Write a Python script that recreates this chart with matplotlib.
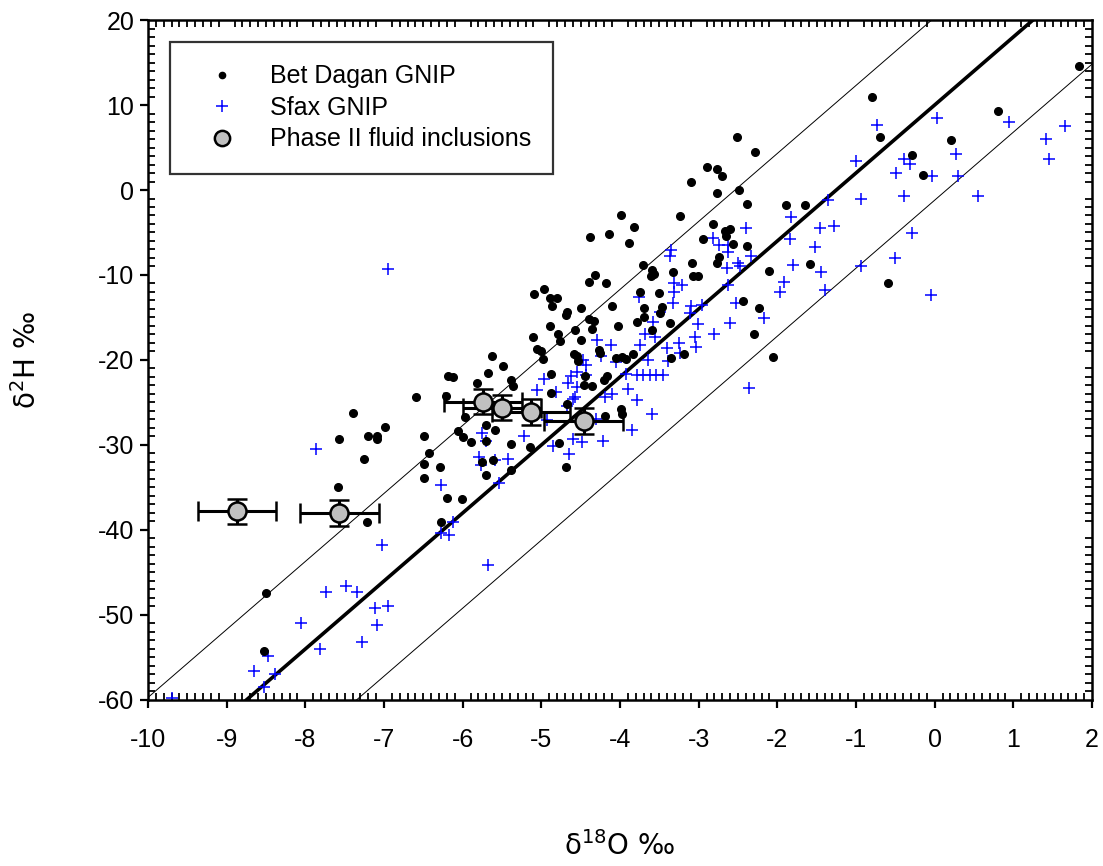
import matplotlib
matplotlib.use("Agg")
import matplotlib.pyplot as plt
from matplotlib.lines import Line2D
from matplotlib.ticker import MultipleLocator
import numpy as np

plt.rcParams["axes.unicode_minus"] = False

# Bet Dagan GNIP (d18O, d2H)
bd_x = [-2.51, -2.29, -2.89, -2.77, -2.70, -3.10, -2.77, -2.49, -2.39, -1.89,
        -1.65, -3.99, -3.24, -3.82, -4.38, -4.14, -3.88, -2.82, -2.67, -2.60,
        -2.65, -2.94, -2.56, -2.39, -2.74, 1.83, -0.80, 0.81, -0.69, 0.21,
        -0.29, -0.15, -1.58, -0.59, -6.19, -6.12, -5.82, -5.68, -5.63, -6.59,
        -6.21, -5.97, -7.39, -6.99, -7.20, -7.09, -7.09, -7.57, -6.49, -6.06,
        -5.99, -5.89, -7.26, -6.43, -6.49, -6.29, -5.75, -5.70, -6.49, -7.59,
        -6.20, -6.01, -5.70, -7.21, -6.28, -8.50, -8.53,
        -3.71, -3.59, -3.57, -3.60, -4.32, -4.39, -4.18, -3.33, -3.09, -3.07,
        -3.01, -2.77, -5.09, -4.96, -4.89, -4.80, -4.87, -3.75, -3.51, -4.10,
        -4.49, -4.67, -4.69, -3.70, -3.46, -3.69, -3.79, -3.36, -4.39, -4.33,
        -4.89, -4.79, -4.57, -4.35, -4.02, -3.59, -5.10, -4.76, -4.49, -5.06,
        -5.01, -5.49, -4.98, -4.58, -4.55, -4.27, -4.25, -4.05, -3.98, -3.92,
        -3.83, -4.54, -3.35, -3.19, -5.38, -5.36, -4.88, -4.44, -4.16, -4.20,
        -4.46, -4.35, -4.88, -2.44, -2.23, -2.10, -2.30, -2.05, -4.19, -3.99,
        -3.98, -5.59, -5.70, -5.39, -5.15, -4.77, -5.61, -5.38, -4.69, -4.68,
        -3.49]
bd_y = [6.2, 4.5, 2.7, 2.5, 1.6, 1.0, -0.3, 0.0, -1.7, -1.8,
        -1.8, -2.9, -3.1, -4.3, -5.5, -5.2, -6.2, -4.0, -4.8, -4.6,
        -5.4, -5.8, -6.4, -6.6, -7.9, 14.6, 10.9, 9.3, 6.2, 5.9,
        4.1, 1.8, -8.7, -10.9, -21.9, -22.0, -22.7, -21.5, -19.5, -24.3,
        -24.2, -26.7, -26.2, -27.9, -28.9, -29.0, -29.3, -29.3, -28.9, -28.4,
        -29.1, -29.7, -31.7, -30.9, -32.2, -32.6, -32.0, -33.5, -33.9, -34.9,
        -36.2, -36.4, -27.6, -39.1, -39.1, -47.4, -54.2,
        -8.8, -9.4, -9.9, -10.1, -10.0, -10.8, -10.9, -9.7, -8.6, -10.1,
        -10.1, -8.6, -12.2, -11.6, -12.7, -12.7, -13.6, -12.0, -12.1, -13.6,
        -13.9, -14.4, -14.7, -13.9, -13.8, -14.9, -15.5, -15.6, -15.2, -15.4,
        -16.0, -16.9, -16.5, -16.4, -16.0, -16.5, -17.3, -17.8, -17.6, -18.7,
        -18.9, -20.7, -19.9, -19.3, -19.5, -18.8, -19.2, -19.8, -19.7, -19.9,
        -19.3, -20.1, -19.8, -19.3, -22.4, -23.1, -21.6, -21.9, -21.9, -22.4,
        -22.9, -23.1, -23.9, -13.1, -13.9, -9.5, -16.9, -19.7, -26.6, -25.8,
        -26.4, -28.2, -29.5, -29.9, -30.2, -29.8, -31.8, -32.9, -32.6, -25.2,
        -14.5]

# Sfax GNIP (d18O, d2H)
sf_x = [-1.82, -1.46, -1.84, -1.52, -2.40, -2.82, -2.74, -2.63, -2.63, -3.35,
        -2.34, -0.73, 0.03, 0.95, 1.66, 1.41, 1.46, 0.27, -1.00, -0.39,
        -0.31, -0.49, -0.03, 0.30, -0.94, -0.39, 0.55, -1.36, -1.28, -0.29,
        -0.51, -1.44, -0.93, -1.39, -0.05, -6.95, -7.87, -6.27, -5.76, -5.70,
        -5.79, -5.77, -6.12, -6.27, -6.18, -7.02, -5.68, -7.74, -7.48, -7.34,
        -7.11, -6.95, -7.09, -8.06, -7.28, -7.82, -8.48, -8.65, -8.39, -8.52,
        -9.69, -5.54,
        -3.37, -2.64, -2.50, -2.48, -1.80, -1.92, -1.96, -3.31, -3.21, -3.31,
        -3.76, -3.33, -2.63, -2.53, -3.10, -3.11, -2.96, -3.49, -3.58, -3.01,
        -2.60, -2.17, -2.80, -3.68, -3.56, -4.29, -4.11, -3.75, -3.40, -3.25,
        -3.05, -3.03, -4.24, -3.64, -4.05, -3.39, -3.24, -4.47, -4.43, -4.55,
        -4.62, -3.92, -3.79, -3.71, -3.62, -3.54, -3.45, -4.97, -4.66, -5.06,
        -4.81, -4.57, -4.60, -4.10, -3.90, -3.78, -4.19, -4.67, -3.59, -4.31,
        -3.85, -2.36, -4.93, -5.22, -4.85, -4.60, -4.48, -4.21, -4.65, -5.42,
        -5.59, -4.55, -4.43]
sf_y = [-3.2, -4.5, -5.8, -6.7, -4.5, -5.6, -6.5, -6.5, -7.3, -7.1,
        -7.8, 7.7, 8.5, 8.0, 7.5, 6.0, 3.6, 4.2, 3.4, 3.6,
        3.1, 2.0, 1.7, 1.6, -1.0, -0.7, -0.7, -1.2, -4.2, -5.1,
        -8.0, -9.7, -8.9, -11.8, -12.4, -9.3, -30.5, -34.7, -28.6, -29.5,
        -31.4, -32.4, -39.1, -40.4, -40.6, -41.8, -44.1, -47.3, -46.6, -47.3,
        -49.2, -48.9, -51.2, -50.9, -53.2, -54.0, -54.8, -56.6, -56.9, -58.5,
        -59.8, -34.5,
        -7.8, -9.2, -8.6, -9.0, -8.8, -10.8, -12.0, -11.0, -11.2, -12.0,
        -12.6, -13.3, -11.2, -13.3, -13.7, -14.5, -13.5, -14.3, -15.5, -15.8,
        -15.6, -15.1, -16.9, -16.9, -17.3, -17.7, -18.2, -18.2, -18.6, -18.0,
        -17.3, -18.5, -19.5, -20.0, -20.2, -20.1, -19.2, -20.0, -20.6, -21.4,
        -21.9, -21.6, -21.8, -21.8, -21.8, -21.8, -21.8, -22.2, -22.7, -23.5,
        -23.8, -24.3, -24.6, -24.0, -23.4, -24.7, -24.3, -25.4, -26.3, -27.0,
        -28.2, -23.3, -27.1, -29.0, -30.1, -29.3, -29.7, -29.5, -31.1, -31.7,
        -31.8, -23.2, -21.8]

# Phase II fluid inclusions with errors
fi_x = [-8.87, -7.57, -5.74, -5.50, -5.13, -4.46]
fi_y = [-37.8, -38.0, -24.9, -25.6, -26.1, -27.2]
fi_xerr = [0.5, 0.5, 0.5, 0.5, 0.5, 0.5]
fi_yerr = [1.5, 1.5, 1.5, 1.5, 1.5, 1.5]

# meteoric water lines: d2H = 8*d18O + b
mwl_slope = 8
gmwl_b = 10
upper_b = 20.3
lower_b = -1.2

fig = plt.figure(figsize=(11.03, 8.66), dpi=100)
ax = fig.add_axes([0.1342, 0.1917, 0.8558, 0.7852])

xl = np.array([-10.5, 2.5])
ax.plot(xl, mwl_slope * xl + upper_b, color="black", lw=0.7, zorder=1)
ax.plot(xl, mwl_slope * xl + lower_b, color="black", lw=0.7, zorder=1)
ax.plot(xl, mwl_slope * xl + gmwl_b, color="black", lw=2.6, zorder=1)

ax.plot(bd_x, bd_y, "o", color="black", ms=5.5, zorder=3)
ax.plot(sf_x, sf_y, "+", color="#0000ff", ms=9, mew=1.1, zorder=2)
ax.errorbar(fi_x, fi_y, xerr=fi_xerr, yerr=fi_yerr, fmt="o", color="black",
            mfc="#c0c0c0", mec="black", ms=13, mew=1.8, elinewidth=2.2,
            capsize=7, capthick=2.2, zorder=4)

ax.set_xlim(-10, 2)
ax.set_ylim(-60, 20)
ax.xaxis.set_major_locator(MultipleLocator(1))
ax.xaxis.set_minor_locator(MultipleLocator(0.1))
ax.yaxis.set_major_locator(MultipleLocator(10))
ax.yaxis.set_minor_locator(MultipleLocator(1))

for s in ax.spines.values():
    s.set_linewidth(1.8)
ax.tick_params(which="major", direction="out", length=6, width=1.6,
               labelsize=18, top=False, right=False)
ax.tick_params(axis="x", which="major", pad=14)
ax.tick_params(axis="y", which="major", pad=4)
ax.tick_params(which="minor", direction="in", length=5, width=1.3,
               top=True, right=True)
for lab in ax.get_xticklabels() + ax.get_yticklabels():
    lab.set_family("Liberation Sans")

ax.set_xlabel("δ$^{18}$O ‰", fontsize=20)
ax.set_ylabel("δ$^{2}$H ‰", fontsize=20)
ax.xaxis.set_label_coords(0.5, -0.193)
ax.yaxis.set_label_coords(-0.112, 0.5)

handles = [
    Line2D([], [], ls="none", marker="o", color="black", ms=4.5),
    Line2D([], [], ls="none", marker="+", color="#0000ff", ms=9, mew=1.1),
    Line2D([], [], ls="none", marker="o", mfc="#c0c0c0", mec="black", ms=11, mew=1.8),
]
labels = ["Bet Dagan GNIP", "Sfax GNIP", "Phase II fluid inclusions"]
leg = ax.legend(handles, labels, loc="upper left", bbox_to_anchor=(0.023, 0.968),
                frameon=True, fancybox=False, edgecolor="black",
                prop={"family": "Liberation Sans", "size": 18},
                handletextpad=0.7, labelspacing=0.3, borderpad=0.9,
                borderaxespad=0, handlelength=2.4)
leg.get_frame().set_linewidth(1.6)

fig.savefig("out.png", dpi=100)
